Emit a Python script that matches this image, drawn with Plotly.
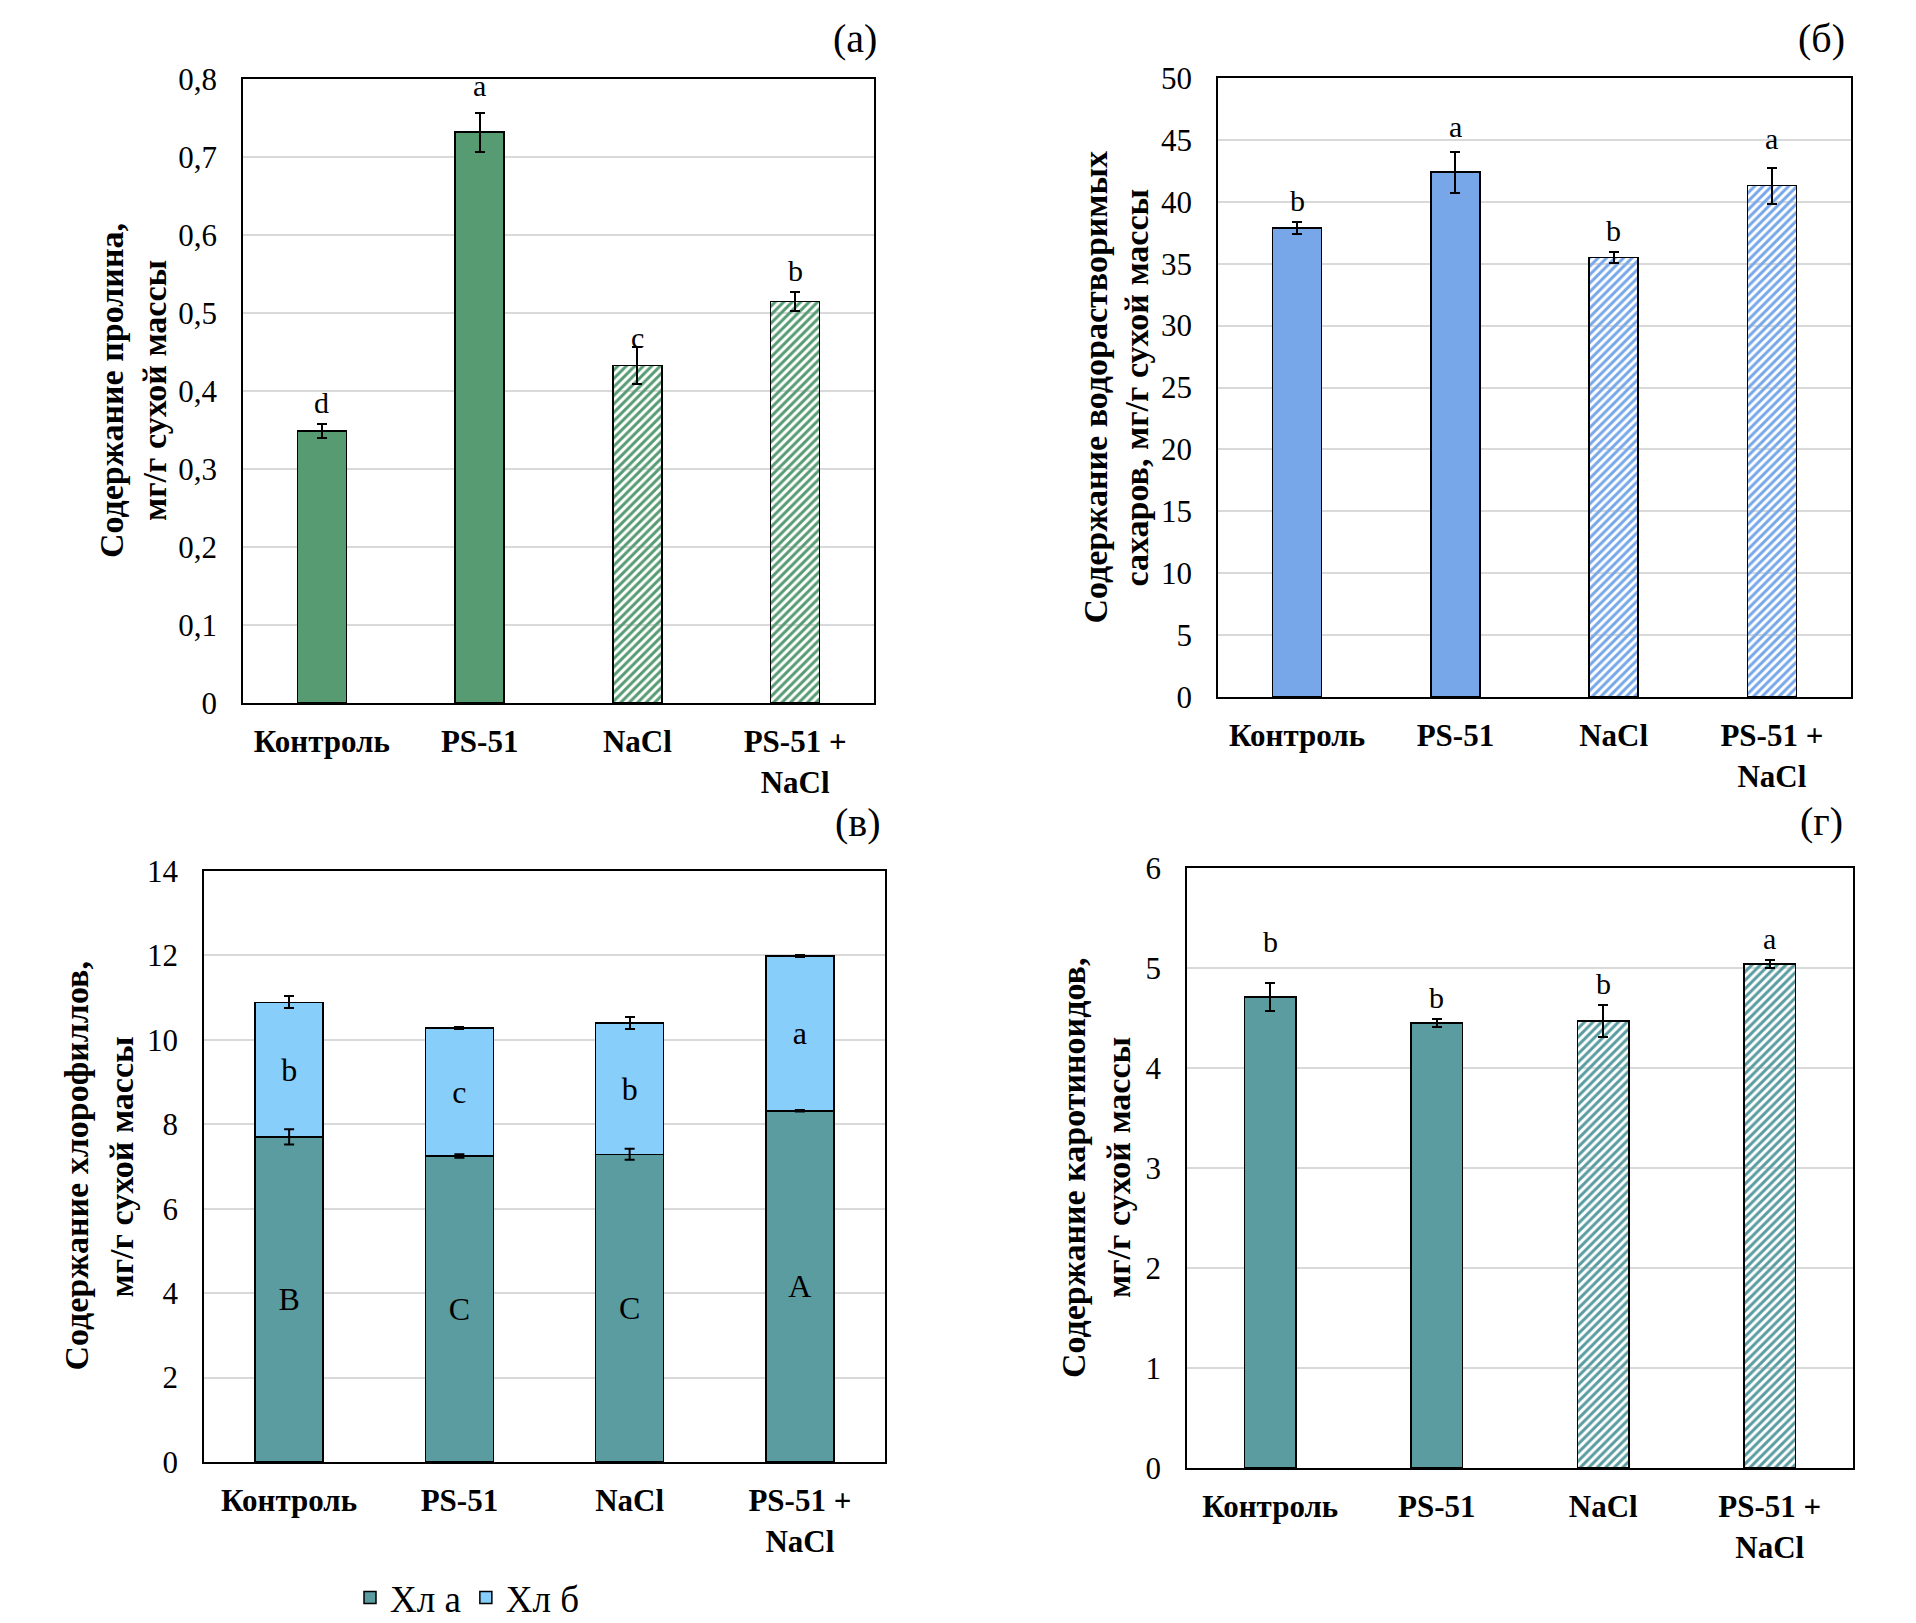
import plotly.graph_objects as go

# ---------------- data ----------------
categories = ["Контроль", "PS-51", "NaCl", "PS-51 + NaCl"]
hatched = [False, False, True, True]

proline = [0.349, 0.732, 0.433, 0.515]
proline_err = [0.009, 0.025, 0.024, 0.012]
proline_letters = ["d", "a", "c", "b"]

sugars = [37.9, 42.4, 35.5, 41.3]
sugars_err = [0.5, 1.65, 0.48, 1.45]
sugars_letters = ["b", "a", "b", "a"]

chl_a = [7.70, 7.25, 7.29, 8.32]
chl_a_err = [0.18, 0.04, 0.13, 0.02]
chl_a_letters = ["B", "C", "C", "A"]
chl_b = [3.19, 3.03, 3.11, 3.67]
chl_b_err = [0.14, 0.02, 0.135, 0.03]
chl_b_letters = ["b", "c", "b", "a"]

carot = [4.71, 4.45, 4.47, 5.04]
carot_err = [0.137, 0.037, 0.163, 0.037]
carot_letters = ["b", "b", "b", "a"]

y_titles = {
    "a": ["Содержание пролина,", "мг/г сухой массы"],
    "b": ["Содержание водорастворимых", "сахаров, мг/г сухой массы"],
    "c": ["Содержание хлорофиллов,", "мг/г сухой массы"],
    "d": ["Содержание каротиноидов,", "мг/г сухой массы"],
}
panel_labels = {"a": "(а)", "b": "(б)", "c": "(в)", "d": "(г)"}
legend_names = ["Хл а", "Хл б"]

# ---------------- styles ----------------
W, H = 1916, 1623
FONT = "Liberation Serif"
GREEN = "#579B73"
BLUE = "#77A7E9"
TEAL = "#5A9CA0"
LIGHTBLUE = "#87CEFA"
GRID = "#D9D9D9"

# panel pixel boxes: (left, right, top, bottom)
boxes = {
    "a": (243, 874, 79, 703),
    "b": (1218, 1851, 78, 697),
    "c": (204, 885, 871, 1462),
    "d": (1187, 1853, 868, 1468),
}
# x pixel centres of the two title lines
title_lines_x = {"a": (112, 155), "b": (1095, 1136), "c": (76, 121), "d": (1073, 1118)}
label_pos = {"a": (855, 39), "b": (1821, 39), "c": (858, 822), "d": (1821, 821)}
yranges = {"a": (0, 0.8, 0.1), "b": (0, 50, 5), "c": (0, 14, 2), "d": (0, 6, 1)}
axis_ids = {"a": ("x", "y"), "b": ("x2", "y2"), "c": ("x3", "y3"), "d": ("x4", "y4")}

fig = go.Figure()


def hatched_marker(color):
    n = len(categories)
    return dict(
        color=[color] * n,
        line=dict(color="black", width=1.5),
        pattern=dict(
            shape=["/" if h else "" for h in hatched],
            fgcolor=[color] * n,
            bgcolor=["white"] * n,
            size=6,
            solidity=0.5,
            fillmode="replace",
        ),
    )


def err(arr):
    return dict(type="data", array=arr, visible=True, color="black", thickness=2, width=5)


# (а) proline
fig.add_trace(go.Bar(x=categories, y=proline, width=0.31, marker=hatched_marker(GREEN),
                     error_y=err(proline_err), xaxis="x", yaxis="y", showlegend=False))
# (б) sugars
fig.add_trace(go.Bar(x=categories, y=sugars, width=0.31, marker=hatched_marker(BLUE),
                     error_y=err(sugars_err), xaxis="x2", yaxis="y2", showlegend=False))
# (в) chlorophylls stacked
fig.add_trace(go.Bar(x=categories, y=chl_a, width=0.40, name=legend_names[0],
                     marker=dict(color=TEAL, line=dict(color="black", width=1.5)),
                     text=chl_a_letters, textposition="inside",
                     insidetextanchor="middle", textangle=0,
                     textfont=dict(family=FONT, size=32, color="black"),
                     xaxis="x3", yaxis="y3", showlegend=True))
fig.add_trace(go.Bar(x=categories, y=chl_b, width=0.40, name=legend_names[1],
                     marker=dict(color=LIGHTBLUE, line=dict(color="black", width=1.5)),
                     error_y=err(chl_b_err), text=chl_b_letters, textposition="inside",
                     insidetextanchor="middle", textangle=0,
                     textfont=dict(family=FONT, size=32, color="black"),
                     xaxis="x3", yaxis="y3", showlegend=True))
# error bars of Хл а drawn on top of the stacked bars
fig.add_trace(go.Scatter(x=categories, y=chl_a, mode="markers",
                         marker=dict(size=1, opacity=0), error_y=err(chl_a_err),
                         xaxis="x3", yaxis="y3", showlegend=False, hoverinfo="skip"))
# (г) carotenoids
fig.add_trace(go.Bar(x=categories, y=carot, width=0.31, marker=hatched_marker(TEAL),
                     error_y=err(carot_err), xaxis="x4", yaxis="y4", showlegend=False))

layout = dict(
    width=W, height=H,
    margin=dict(l=0, r=0, t=0, b=0, autoexpand=False),
    paper_bgcolor="white", plot_bgcolor="white",
    barmode="stack",
    separators=", ",
    font=dict(family=FONT, color="black"),
    showlegend=True,
    legend=dict(orientation="h", x=350 / W, xanchor="left", y=1 - 1598 / H, yanchor="middle",
                traceorder="normal", font=dict(family=FONT, size=37, color="black"),
                itemwidth=30, bgcolor="rgba(0,0,0,0)"),
)

ticktext = [c.replace(" + ", " +<br>") for c in categories]
annotations = []
for key, (l, r, t, b) in boxes.items():
    xa, ya = axis_ids[key]
    xname = "xaxis" if xa == "x" else "xaxis" + xa[1:]
    yname = "yaxis" if ya == "y" else "yaxis" + ya[1:]
    lo, hi, dt = yranges[key]
    layout[xname] = dict(
        domain=[l / W, r / W], anchor=ya, type="category",
        range=[-0.5, 3.5], tickvals=categories, ticktext=ticktext,
        tickfont=dict(family=FONT, size=31, color="black", weight="bold"),
        showline=True, linecolor="black", linewidth=2, mirror=True,
        ticks="", ticklabelstandoff=10, showgrid=False, automargin=False,
    )
    layout[yname] = dict(
        domain=[1 - b / H, 1 - t / H], anchor=xa,
        range=[lo, hi], dtick=dt, tick0=0,
        tickfont=dict(family=FONT, size=31, color="black"),
        showline=True, linecolor="black", linewidth=1.5, mirror=True,
        ticks="", ticklabelstandoff=18, automargin=False,
        showgrid=True, gridcolor=GRID, gridwidth=2, zeroline=False,
    )
    # y-axis title, one annotation per line
    for line_text, lx in zip(y_titles[key], title_lines_x[key]):
        annotations.append(dict(
            text="<b>" + line_text + "</b>", xref="paper", yref="paper",
            x=lx / W, y=1 - (t + b) / 2 / H, xanchor="center", yanchor="middle",
            textangle=-90, showarrow=False, font=dict(family=FONT, size=34, color="black"),
        ))
    # panel label
    px, py = label_pos[key]
    annotations.append(dict(
        text=panel_labels[key], xref="paper", yref="paper", x=px / W, y=1 - py / H,
        xanchor="center", yanchor="middle", showarrow=False,
        font=dict(family=FONT, size=40, color="black"),
    ))

# significance letters above bars
letter_sets = [
    ("x", "y", proline, proline_err, proline_letters, {1: 6, 2: -12}),
    ("x2", "y2", sugars, sugars_err, sugars_letters, {1: 4, 3: 8}),
    ("x4", "y4", carot, carot_err, carot_letters, {0: 20}),
]
for xa, ya, vals, errs, letters, extra in letter_sets:
    for i, (c, v, e, s) in enumerate(zip(categories, vals, errs, letters)):
        annotations.append(dict(
            text=s, xref=xa, yref=ya, x=c, y=v + e, xanchor="center", yanchor="bottom",
            yshift=3 + extra.get(i, 0), showarrow=False,
            font=dict(family=FONT, size=30, color="black"),
        ))

layout["annotations"] = annotations
fig.update_layout(**layout)
fig.write_html("out.html")
